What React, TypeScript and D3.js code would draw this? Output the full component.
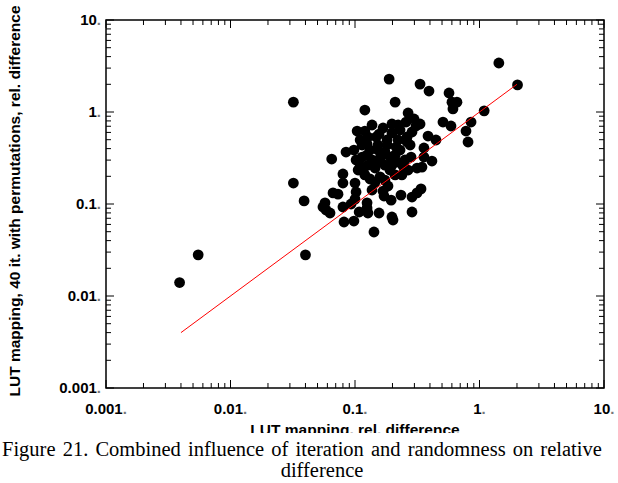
import React from "react";
import * as d3 from "d3";

// LUT mapping relative difference (x) and the 40-iteration permutation run (y)
const lutDiff = [
  0.0039, 0.0055, 0.040, 0.032, 0.032, 0.039, 0.065, 1.43, 2.02, 0.188,
  0.333, 0.393, 0.569, 0.601, 0.659, 0.612, 0.210, 0.120, 1.09, 0.267,
  0.257, 0.298, 0.333, 0.309, 0.198, 0.509, 0.590, 0.855, 0.779, 0.809,
  0.104, 0.120, 0.156, 0.148, 0.125, 0.181, 0.181, 0.262, 0.262, 0.386,
  0.447, 0.214, 0.358, 0.0847, 0.098, 0.153, 0.165, 0.156, 0.282, 0.415,
  0.358, 0.102, 0.110, 0.116, 0.120, 0.191, 0.218, 0.243, 0.345, 0.315,
  0.080, 0.080, 0.100, 0.102, 0.132, 0.137, 0.159, 0.168, 0.171, 0.0666,
  0.073, 0.0574, 0.0553, 0.0585, 0.063, 0.080, 0.093, 0.100, 0.125, 0.125,
  0.108, 0.127, 0.156, 0.195, 0.198, 0.202, 0.234, 0.287, 0.315, 0.339,
  0.287, 0.0816, 0.098, 0.142, 0.114, 0.125, 0.110, 0.114, 0.132, 0.137,
  0.127, 0.145, 0.174, 0.191, 0.210, 0.174, 0.145, 0.153, 0.174, 0.210,
  0.230, 0.222, 0.198, 0.168, 0.137, 0.127, 0.106, 0.184, 0.252, 0.277,
  0.230, 0.287, 0.222, 0.159, 0.198, 0.238, 0.267,
];
const permDiff = [
  0.014, 0.028, 0.028, 0.169, 1.28, 0.108, 0.308, 3.41, 1.97, 2.28,
  2.01, 1.69, 1.61, 1.28, 1.28, 1.08, 1.28, 1.05, 1.03, 0.975,
  0.778, 0.839, 0.741, 0.704, 0.741, 0.778, 0.704, 0.778, 0.621, 0.472,
  0.621, 0.621, 0.576, 0.535, 0.449, 0.496, 0.438, 0.535, 0.472, 0.548,
  0.496, 0.417, 0.406, 0.367, 0.386, 0.386, 0.341, 0.286, 0.324, 0.293,
  0.324, 0.301, 0.259, 0.234, 0.207, 0.324, 0.286, 0.259, 0.252, 0.246,
  0.212, 0.169, 0.169, 0.135, 0.187, 0.142, 0.197, 0.138, 0.122, 0.132,
  0.128, 0.103, 0.0928, 0.0861, 0.0798, 0.0928, 0.100, 0.113, 0.103, 0.0905,
  0.0819, 0.0798, 0.0798, 0.110, 0.0722, 0.067, 0.125, 0.119, 0.132, 0.146,
  0.0819, 0.0637, 0.0653, 0.0496, 0.324, 0.341, 0.496, 0.438, 0.386, 0.301,
  0.265, 0.246, 0.265, 0.234, 0.207, 0.182, 0.173, 0.438, 0.367, 0.341,
  0.386, 0.496, 0.591, 0.670, 0.722, 0.535, 0.234, 0.157, 0.301, 0.438,
  0.637, 0.606, 0.722, 0.316, 0.265, 0.207, 0.234,
];

// Line of equality between the two runs
const fitX = [0.004, 2];
const fitY = [0.004, 2];

const decadeTicks = [0.001, 0.01, 0.1, 1, 10];
const decadeLabels = ["0.001", "0.01", "0.1", "1", "10"];

const W = 618;
const H = 483;
const plot = { left: 106, right: 604, top: 20, bottom: 388 };

export default function App() {
  const x = d3.scaleLog().domain([0.001, 10]).range([plot.left, plot.right]);
  const y = d3.scaleLog().domain([0.001, 10]).range([plot.bottom, plot.top]);

  // major + minor ticks: 1..9 x 10^k for each decade
  const allTicks: { v: number; major: boolean }[] = [];
  for (let k = -3; k <= 1; k++) {
    for (let m = 1; m <= 9; m++) {
      const v = m * Math.pow(10, k);
      if (v > 10.0001) break;
      allTicks.push({ v, major: m === 1 });
    }
  }
  const majorLen = 8;
  const minorLen = 5;

  const line = d3
    .line<number>()
    .x((_, i) => x(fitX[i]))
    .y((_, i) => y(fitY[i]));

  const axisFont = "'Liberation Sans', Arial, sans-serif";
  const serif = "'Liberation Serif', 'Times New Roman', serif";

  return (
    <svg
      width={W}
      height={H}
      style={{ position: "absolute", left: 0, top: 0, background: "#fff" }}
    >
      <defs>
        <clipPath id="xTitleClip">
          <rect x={0} y={0} width={W} height={433} />
        </clipPath>
      </defs>
      <rect x={0} y={0} width={W} height={H} fill="#fff" />

      {/* ticks on all four sides, pointing inward */}
      <g stroke="#000" strokeWidth={1}>
        {allTicks.map((t, i) => {
          const len = t.major ? majorLen : minorLen;
          const px = x(t.v);
          const py = y(t.v);
          return (
            <g key={i}>
              <line x1={px} x2={px} y1={plot.bottom} y2={plot.bottom - len} />
              <line x1={px} x2={px} y1={plot.top} y2={plot.top + len} />
              <line x1={plot.left} x2={plot.left + len} y1={py} y2={py} />
              <line x1={plot.right} x2={plot.right - len} y1={py} y2={py} />
            </g>
          );
        })}
      </g>

      {/* points */}
      <g fill="#000">
        {lutDiff.map((v, i) => (
          <circle key={i} cx={x(v)} cy={y(permDiff[i])} r={5.4} />
        ))}
      </g>

      {/* equality line */}
      <path d={line(fitX) || ""} fill="none" stroke="#ff0000" strokeWidth={1} />

      {/* frame */}
      <rect
        x={plot.left}
        y={plot.top}
        width={plot.right - plot.left}
        height={plot.bottom - plot.top}
        fill="none"
        stroke="#000"
        strokeWidth={1.5}
      />

      {/* x tick labels */}
      <g fontFamily={axisFont} fontWeight="bold" fontSize={15} fill="#000">
        {decadeTicks.map((v, i) => (
          <text key={i} x={x(v)} y={414} textAnchor="middle">
            {decadeLabels[i]}
            <tspan fill="#777">.</tspan>
          </text>
        ))}
      </g>

      {/* y tick labels */}
      <g fontFamily={axisFont} fontWeight="bold" fontSize={15} fill="#000">
        {decadeTicks.map((v, i) => (
          <text key={i} x={101} y={y(v) + 5.2} textAnchor="end">
            {decadeLabels[i]}
            <tspan fill="#777">.</tspan>
          </text>
        ))}
      </g>

      {/* axis titles */}
      <text
        x={355}
        y={435}
        textAnchor="middle"
        fontFamily={axisFont}
        fontWeight="bold"
        fontSize={15.5}
        clipPath="url(#xTitleClip)"
      >
        LUT mapping, rel. difference
      </text>
      <text
        transform={`translate(20, ${201}) rotate(-90)`}
        textAnchor="middle"
        fontFamily={axisFont}
        fontWeight="bold"
        fontSize={15.5}
      >
        LUT mapping, 40 it. with permutations, rel. difference
      </text>

      {/* caption */}
      <text x={2} y={456} fontFamily={serif} fontSize={20.5} wordSpacing={2}>
        Figure 21. Combined influence of iteration and randomness on relative
      </text>
      <text x={322} y={477} textAnchor="middle" fontFamily={serif} fontSize={20.5}>
        difference
      </text>
    </svg>
  );
}
